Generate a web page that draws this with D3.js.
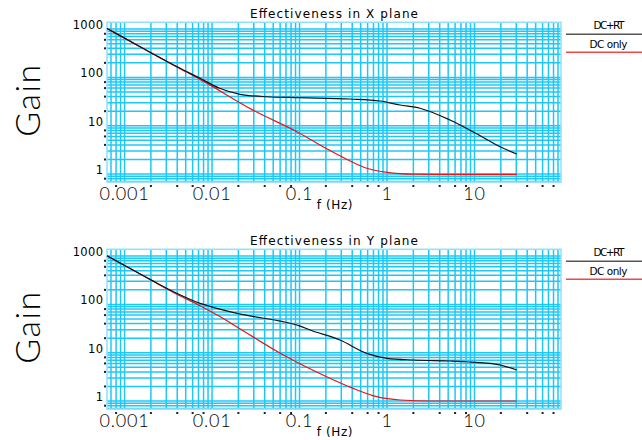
<!DOCTYPE html>
<html>
<head>
<meta charset="utf-8">
<script src="https://cdn.jsdelivr.net/npm/d3@7"></script>
<style>
  body { margin: 0; background: #fff; }
  svg { display: block; }
  text { font-family: "DejaVu Sans", sans-serif; fill: #000; }
  .thin { font-family: "Lato Light", "Lato", "Roboto Light", Roboto, sans-serif; font-weight: 300; }
</style>
</head>
<body>
<svg id="chart" width="642" height="440"></svg>
<script>
// frequency / gain
var freqXrt = [0.00063, 0.001, 0.002, 0.004, 0.0073, 0.0122, 0.0209, 0.042, 0.1, 0.377, 0.83, 1.41, 2.38, 5.25, 9.6, 19.6, 30.4];
var gainXrt = [1029, 650, 325, 166, 95.8, 59.5, 44.7, 39.8, 38, 35.7, 32.5, 26.8, 23, 13.1, 7.5, 3.67, 2.6];
var freqXdc = [0.00063, 0.001, 0.002, 0.004, 0.0073, 0.0294, 0.1, 0.2, 0.35, 0.6, 1.0, 2.0, 4.0, 30.4];
var gainXdc = [1029, 650, 325, 163, 91, 21, 7.0, 3.4, 2.0, 1.3, 1.08, 0.99, 0.98, 0.98];

var freqYrt = [0.00063, 0.001, 0.002, 0.004, 0.0073, 0.0122, 0.027, 0.06, 0.1, 0.132, 0.29, 0.586, 1, 1.98, 5.25, 8.1, 17.9, 30.4];
var gainYrt = [1015, 640, 322, 168, 105, 80, 58, 45, 36, 29.5, 18.3, 9.7, 7.65, 7.06, 6.73, 6.5, 5.75, 4.38];
var freqYdc = [0.00063, 0.001, 0.002, 0.004, 0.0073, 0.0123, 0.021, 0.0654, 0.204, 0.409, 0.763, 1.41, 3.36, 30.4];
var gainYdc = [1015, 640, 320, 161, 94, 56, 31, 8.96, 3.18, 1.83, 1.23, 1.05, 1.0, 1.0];

var xTickVals = [0.001, 0.01, 0.1, 1, 10];
var xTickLabels = ["0.001", "0.01", "0.1", "1", "10"];
var yTickVals = [1, 10, 100, 1000];
var yTickLabels = ["1", "10", "100", "1000"];
var legendNames = ["DC+RT", "DC only"];

var panels = [
	{ title: "Effectiveness in X plane", rt: [freqXrt, gainXrt], dc: [freqXdc, gainXdc], dy: 0 },
	{ title: "Effectiveness in Y plane", rt: [freqYrt, gainYrt], dc: [freqYdc, gainYdc], dy: 227 }
];

var svg = d3.select("#chart");
var gridColor = "#1cc8f8";

var x = d3.scaleLog().domain([0.00063, 97.4]).range([107, 561]);
var y = d3.scaleLog().domain([0.683, 1383]).range([182, 22.3]);

function logSteps(lo, hi, mults) {
	var out = [];
	for (var k = -5; k <= 4; k++) {
		mults.forEach(function (m) {
			var v = m * Math.pow(10, k);
			if (v >= lo * 0.9999 && v <= hi * 1.0001) out.push(v);
		});
	}
	return out;
}

var allMult = [1, 2, 3, 4, 5, 6, 7, 8, 9];
var dotMult = [2, 4, 6, 8];

panels.forEach(function (p) {
	var g = svg.append("g").attr("transform", "translate(0," + p.dy + ")");

	// grid
	g.selectAll(".vg").data(logSteps(x.domain()[0], x.domain()[1], allMult)).enter()
		.append("line")
		.attr("x1", function (d) { return x(d); })
		.attr("x2", function (d) { return x(d); })
		.attr("y1", y.range()[0]).attr("y2", y.range()[1])
		.attr("stroke", gridColor).attr("stroke-width", 1.5);
	g.selectAll(".hg").data(logSteps(y.domain()[0], y.domain()[1], allMult)).enter()
		.append("line")
		.attr("y1", function (d) { return y(d); })
		.attr("y2", function (d) { return y(d); })
		.attr("x1", x.range()[0]).attr("x2", x.range()[1])
		.attr("stroke", gridColor).attr("stroke-width", 1.5);

	// frame
	g.append("rect")
		.attr("x", x.range()[0]).attr("y", y.range()[1])
		.attr("width", x.range()[1] - x.range()[0])
		.attr("height", y.range()[0] - y.range()[1])
		.attr("fill", "none").attr("stroke", "#8fe0fb").attr("stroke-width", 1.5);

	// minor tick dots
	g.selectAll(".xd").data(logSteps(x.domain()[0], x.domain()[1], dotMult)).enter()
		.append("rect")
		.attr("x", function (d) { return x(d) - 1; })
		.attr("y", y.range()[0] + 3)
		.attr("width", 2).attr("height", 2).attr("fill", "#222");
	g.selectAll(".yd").data(logSteps(y.domain()[0], y.domain()[1], dotMult)).enter()
		.append("rect")
		.attr("x", x.range()[0] - 3)
		.attr("y", function (d) { return y(d) - 1; })
		.attr("width", 2).attr("height", 2).attr("fill", "#222");

	// tick labels
	g.selectAll(".xl").data(xTickVals).enter()
		.append("text")
		.attr("class", "thin")
		.attr("x", function (d) { return x(d); })
		.attr("y", 200)
		.attr("text-anchor", "middle")
		.style("font-size", "18px")
		.style("letter-spacing", "0.8px")
		.text(function (d, i) { return xTickLabels[i]; });
	g.selectAll(".yl").data(yTickVals).enter()
		.append("text")
		.attr("x", 103.5)
		.attr("y", function (d) { return y(d); })
		.attr("text-anchor", "end")
		.style("font-size", "11.5px")
		.style("letter-spacing", "0.4px")
		.text(function (d, i) { return yTickLabels[i]; });

	// titles
	g.append("text")
		.attr("x", 334).attr("y", 18.3)
		.attr("text-anchor", "middle")
		.attr("textLength", 168).attr("lengthAdjust", "spacing")
		.style("font-size", "12px")
		.text(p.title);
	g.append("text")
		.attr("x", 335).attr("y", 209)
		.attr("text-anchor", "middle")
		.style("font-size", "12px")
		.style("letter-spacing", "0.6px")
		.text("f (Hz)");
	g.append("text")
		.attr("class", "thin")
		.attr("transform", "translate(40,100) rotate(-90)")
		.attr("text-anchor", "middle")
		.style("font-size", "34px")
		.style("letter-spacing", "1.5px")
		.text("Gain");

	// curves
	var line = d3.line()
		.x(function (d) { return x(d[0]); })
		.y(function (d) { return y(d[1]); })
		.curve(d3.curveMonotoneX);
	var rtPts = p.rt[0].map(function (f, i) { return [f, p.rt[1][i]]; });
	var dcPts = p.dc[0].map(function (f, i) { return [f, p.dc[1][i]]; });
	g.append("path").attr("d", line(dcPts))
		.attr("fill", "none").attr("stroke", "#e8141a").attr("stroke-width", 1.2);
	g.append("path").attr("d", line(rtPts))
		.attr("fill", "none").attr("stroke", "#111").attr("stroke-width", 1.2);

	// legend
	g.append("text").attr("x", 609).attr("y", 29.3).attr("text-anchor", "middle")
		.attr("textLength", 31).attr("lengthAdjust", "spacing")
		.style("font-size", "10.5px").text(legendNames[0]);
	g.append("line").attr("x1", 566).attr("x2", 642).attr("y1", 34.3).attr("y2", 34.3)
		.attr("stroke", "#555").attr("stroke-width", 1.5);
	g.append("text").attr("x", 608.5).attr("y", 48).attr("text-anchor", "middle")
		.attr("textLength", 38).attr("lengthAdjust", "spacing")
		.style("font-size", "10.5px").text(legendNames[1]);
	g.append("line").attr("x1", 566).attr("x2", 642).attr("y1", 52.3).attr("y2", 52.3)
		.attr("stroke", "#f04848").attr("stroke-width", 1.5);
});
</script>
</body>
</html>
